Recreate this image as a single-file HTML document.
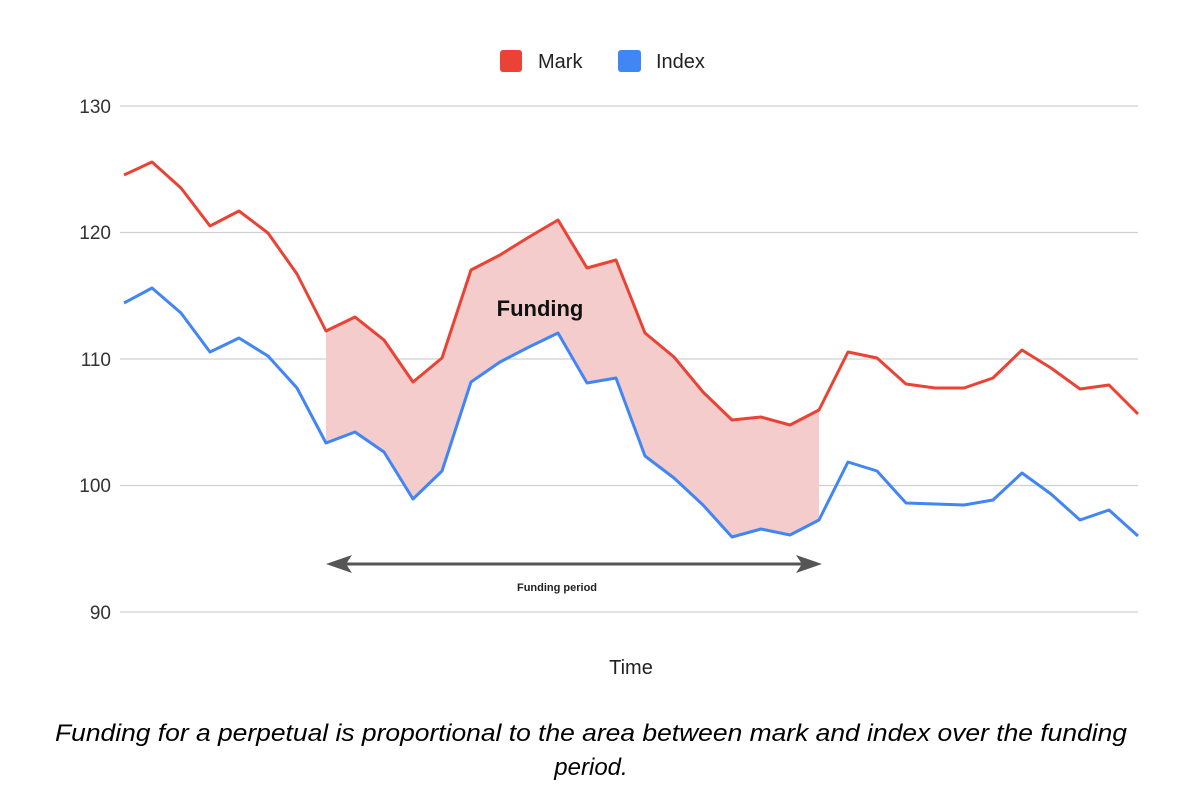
<!DOCTYPE html>
<html><head><meta charset="utf-8"><style>
body{margin:0;background:#fff;width:1183px;height:806px;overflow:hidden;font-family:"Liberation Sans",Arial,sans-serif}
</style></head><body>
<svg width="1183" height="806" xmlns="http://www.w3.org/2000/svg" font-family="Liberation Sans, Arial, sans-serif">
<g stroke="#d0d0d0" stroke-width="1.3">
<line x1="120" y1="106" x2="1138" y2="106"/><line x1="120" y1="232.5" x2="1138" y2="232.5"/><line x1="120" y1="359" x2="1138" y2="359"/><line x1="120" y1="485.5" x2="1138" y2="485.5"/><line x1="120" y1="612" x2="1138" y2="612"/>
</g>
<g font-size="19" fill="#333" text-anchor="end">
<text x="111" y="113">130</text><text x="111" y="239">120</text><text x="111" y="366">110</text><text x="111" y="492">100</text><text x="111" y="619">90</text>
</g>
<rect x="500" y="50" width="22" height="22" rx="3" fill="#ea4335"/>
<text x="538" y="68" font-size="20" fill="#222">Mark</text>
<rect x="618" y="50" width="23" height="22" rx="3" fill="#4285f4"/>
<text x="656" y="68" font-size="20" fill="#222">Index</text>
<polygon fill="#f4cccc" points="326,331 355,317 384,340 413,382 442,358 471,270 500,255 529,237 558,220 587,268 616,260 645,333 674,357 703,392 732,420 761,417 790,425 819,410 819,520 790,535 761,529 732,537 703,505 674,478 645,456 616,378 587,383 558,333 529,347 500,362 471,382 442,471 413,499 384,452 355,432 326,443"/>
<polyline fill="none" stroke="#4285f4" stroke-width="3" stroke-linejoin="round" points="124,303 152,288 181,313 210,352 239,338 268,356 297,388 326,443 355,432 384,452 413,499 442,471 471,382 500,362 529,347 558,333 587,383 616,378 645,456 674,478 703,505 732,537 761,529 790,535 819,520 848,462 877,471 906,503 935,504 964,505 993,500 1022,473 1051,494 1080,520 1109,510 1138,536"/>
<polyline fill="none" stroke="#ea4335" stroke-width="3" stroke-linejoin="round" points="124,175 152,162 181,188 210,226 239,211 268,233 297,274 326,331 355,317 384,340 413,382 442,358 471,270 500,255 529,237 558,220 587,268 616,260 645,333 674,357 703,392 732,420 761,417 790,425 819,410 848,352 877,358 906,384 935,388 964,388 993,378 1022,350 1051,368 1080,389 1109,385 1138,414"/>
<text x="540" y="316" font-size="22" font-weight="bold" text-anchor="middle" fill="#111">Funding</text>
<line x1="340" y1="564" x2="808" y2="564" stroke="#555" stroke-width="3"/>
<polygon points="326,564 352,555 346,564 352,573" fill="#555"/>
<polygon points="822,564 796,555 802,564 796,573" fill="#555"/>
<text x="557" y="591" font-size="11" font-weight="bold" text-anchor="middle" fill="#222">Funding period</text>
<text x="631" y="674" font-size="20" text-anchor="middle" fill="#222">Time</text>
<text x="55" y="741" font-size="24" font-style="italic" fill="#000" textLength="1072" lengthAdjust="spacingAndGlyphs">Funding for a perpetual is proportional to the area between mark and index over the funding</text>
<text x="591" y="775" font-size="24" font-style="italic" text-anchor="middle" fill="#000">period.</text>
</svg>
</body></html>
